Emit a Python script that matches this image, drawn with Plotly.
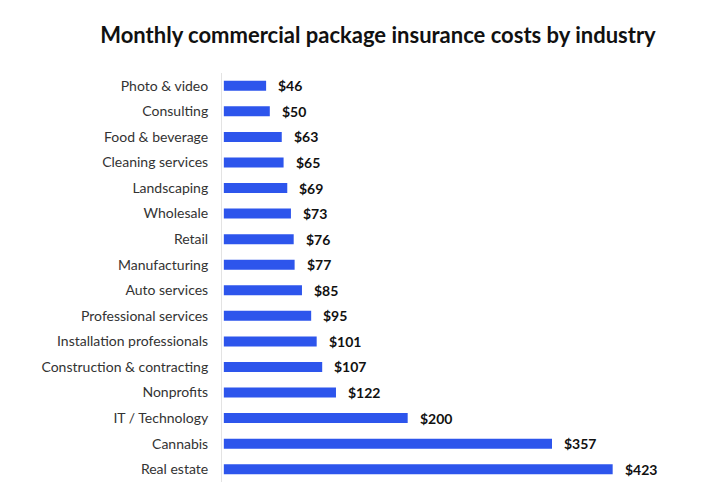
import plotly.graph_objects as go

categories = ["Photo & video", "Consulting", "Food & beverage", "Cleaning services",
              "Landscaping", "Wholesale", "Retail", "Manufacturing", "Auto services",
              "Professional services", "Installation professionals",
              "Construction & contracting", "Nonprofits", "IT / Technology",
              "Cannabis", "Real estate"]
values = [46, 50, 63, 65, 69, 73, 76, 77, 85, 95, 101, 107, 122, 200, 357, 423]
value_labels = ["$" + str(v) for v in values]

fig = go.Figure()
fig.add_trace(go.Bar(
    x=values, y=categories, orientation="h",
    marker=dict(color="#2d55ec", line=dict(width=0)),
    width=0.39, hoverinfo="skip",
))

for c, v, t in zip(categories, values, value_labels):
    fig.add_annotation(x=v, y=c, text="<b>" + t + "</b>", showarrow=False,
                       xanchor="left", yanchor="middle", xshift=10,
                       font=dict(family="Lato, Open Sans, sans-serif", size=14, color="#111111"))

fig.update_layout(
    width=720, height=503,
    margin=dict(l=222, r=20, t=73, b=21),
    paper_bgcolor="white", plot_bgcolor="white",
    showlegend=False,
    title=dict(text="<b>Monthly commercial package insurance costs by industry</b>",
               x=0.525, xanchor="center", y=1 - 35 / 503, yanchor="middle",
               font=dict(family="Lato, Open Sans, sans-serif", size=22, color="#111111")),
    xaxis=dict(range=[-2, 518], visible=False, showgrid=False, zeroline=False),
    yaxis=dict(autorange=False, range=[15.5, -0.5], categoryorder="array",
               categoryarray=categories, showgrid=False, zeroline=False,
               showline=True, linecolor="#e3e3e3", linewidth=1,
               ticks="", ticklabelstandoff=10,
               tickfont=dict(family="Lato, Open Sans, sans-serif", size=14, color="#333333")),
)

fig.write_html("out.html")
